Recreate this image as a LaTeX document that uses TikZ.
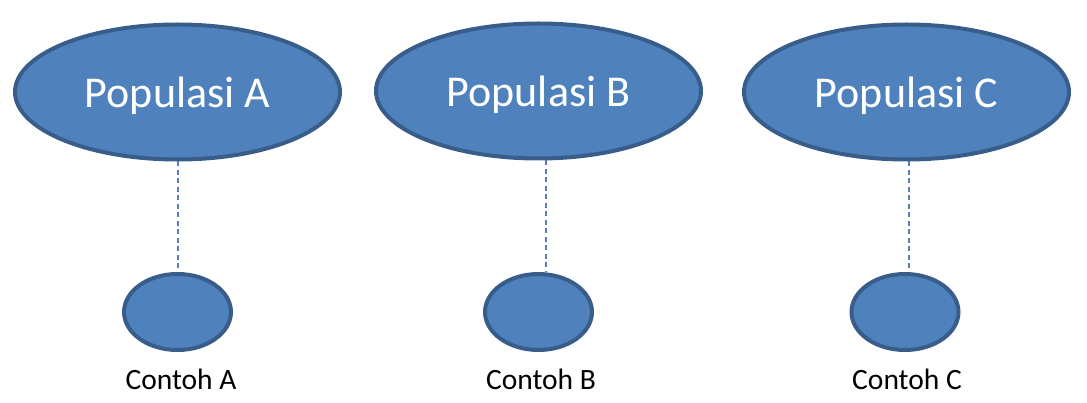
\documentclass[tikz,border=0pt]{standalone}
\usepackage{fontspec}
\setmainfont{Carlito}
\usetikzlibrary{shapes.geometric,backgrounds}
\definecolor{fillblue}{HTML}{4F81BD}
\definecolor{edgeblue}{HTML}{385D8A}
\tikzset{
  x=1pt,y=1pt,
  popnode/.style={ellipse, draw=edgeblue, fill=fillblue, line width=4pt,
    minimum width=325pt, minimum height=135pt, inner sep=0pt,
    text height=32pt, text depth=0pt,
    text=white, font=\fontsize{44}{50}\selectfont},
  samplenode/.style={ellipse, draw=edgeblue, fill=fillblue, line width=4pt,
    minimum width=107pt, minimum height=76pt, inner sep=0pt},
  labelnode/.style={inner sep=0pt, text=black, font=\fontsize{29.5}{34}\selectfont},
  link/.style={draw=fillblue, line width=1.8pt, dash pattern=on 5pt off 3.5pt}
}
\begin{document}
\begin{tikzpicture}
\useasboundingbox (0,0) rectangle (1087,402);
\node[popnode] (pa) at (177.5,310) {Populasi A};
\node[popnode] (pb) at (538.5,311) {Populasi B};
\node[popnode] (pc) at (906.5,310) {Populasi C};
\node[samplenode] (sa) at (177.5,90) {};
\node[samplenode] (sb) at (538.5,90) {};
\node[samplenode] (sc) at (905,90) {};
\node[labelnode] (la) at (181,23) {Contoh A};
\node[labelnode] (lb) at (541,23) {Contoh B};
\node[labelnode] (lc) at (907,23) {Contoh C};
\begin{scope}[on background layer]
\draw[link] ([xshift=0.5pt]pa.south) -- ([xshift=0.5pt]sa.north);
\draw[link] ([xshift=7.5pt]pb.south) -- ([xshift=7.5pt]sb.north);
\draw[link] ([xshift=2.5pt]pc.south) -- ([xshift=4pt]sc.north);
\end{scope}
\end{tikzpicture}
\end{document}
